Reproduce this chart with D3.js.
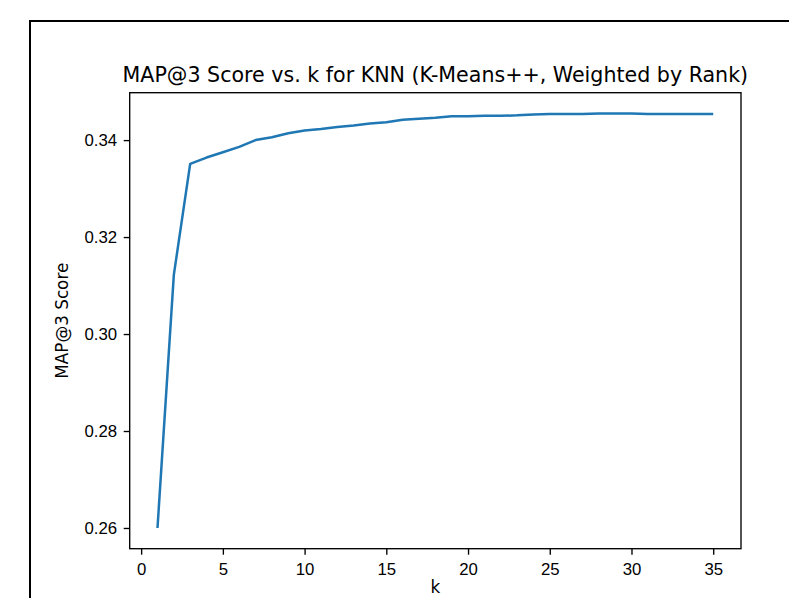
<!DOCTYPE html>
<html>
<head>
<meta charset="utf-8">
<script src="https://cdn.jsdelivr.net/npm/d3@7"></script>
<style>
	body { margin: 0; background: #fff; }
	svg { display: block; font-family: "DejaVu Sans", sans-serif; }
	.axis text { font-size: 16.8px; fill: #000; }
	.axis path, .axis line { stroke: #000; stroke-width: 1.35; }
</style>
</head>
<body>
<svg class="chart" width="789" height="598"></svg>
<script>
// k values and MAP@3 scores
var kValues = [1, 2, 3, 4, 5, 6, 7, 8, 9, 10, 11, 12, 13, 14, 15, 16, 17, 18,
	19, 20, 21, 22, 23, 24, 25, 26, 27, 28, 29, 30, 31, 32, 33, 34, 35];
var scores = [0.2600, 0.3122, 0.3351, 0.3364, 0.3375, 0.3386, 0.3400, 0.3406, 0.3414, 0.3420,
	0.3423, 0.3427, 0.3430, 0.3434, 0.3437, 0.3442, 0.3444, 0.3446, 0.3449, 0.3449,
	0.3450, 0.3450, 0.3451, 0.3453, 0.3454, 0.3454, 0.3454, 0.3455, 0.3455, 0.3455,
	0.3454, 0.3454, 0.3454, 0.3454, 0.3454];
var xTicks = [0, 5, 10, 15, 20, 25, 30, 35];
var yTicks = [0.26, 0.28, 0.30, 0.32, 0.34];

var titleText = "MAP@3 Score vs. k for KNN (K-Means++, Weighted by Rank)";
var xLabel = "k";
var yLabel = "MAP@3 Score";

var svg = d3.select(".chart");
var margin = {top: 92.7, right: 48, bottom: 49.3, left: 129.7};
var width = +svg.attr("width") - margin.left - margin.right;
var height = +svg.attr("height") - margin.top - margin.bottom;

// figure border (cropped at the right and bottom)
svg.append("rect")
	.attr("x", 30)
	.attr("y", 21)
	.attr("width", 800)
	.attr("height", 700)
	.attr("fill", "none")
	.attr("stroke", "#000")
	.attr("stroke-width", 2);

// 5% padding like matplotlib
var xExt = d3.extent(kValues), yExt = d3.extent(scores);
var xPad = (xExt[1] - xExt[0]) * 0.05, yPad = (yExt[1] - yExt[0]) * 0.05;

var xScale = d3.scaleLinear()
	.domain([xExt[0] - xPad, xExt[1] + xPad])
	.range([0, width]);

var yScale = d3.scaleLinear()
	.domain([yExt[0] - yPad, yExt[1] + yPad])
	.range([height, 0]);

var g = svg.append("g").attr("transform", "translate(" + margin.left + "," + margin.top + ")");

g.append("g")
	.attr("class", "axis xAxis")
	.attr("transform", "translate(0," + height + ")")
	.call(d3.axisBottom(xScale).tickValues(xTicks).tickSize(6).tickPadding(8).tickSizeOuter(0))
	.call(function(a) { a.select(".domain").remove(); });

g.append("g")
	.attr("class", "axis yAxis")
	.call(d3.axisLeft(yScale).tickValues(yTicks).tickFormat(d3.format(".2f")).tickSize(6).tickPadding(6.5).tickSizeOuter(0))
	.call(function(a) { a.select(".domain").remove(); });

var line = d3.line()
	.x(function(d, i) { return xScale(kValues[i]); })
	.y(function(d) { return yScale(d); });

g.append("path")
	.datum(scores)
	.attr("fill", "none")
	.attr("stroke", "#1f77b4")
	.attr("stroke-width", 2.5)
	.attr("stroke-linejoin", "round")
	.attr("d", line);

// plot frame
g.append("rect")
	.attr("width", width)
	.attr("height", height)
	.attr("fill", "none")
	.attr("stroke", "#000")
	.attr("stroke-width", 1.35);

g.append("text")
	.attr("x", width / 2)
	.attr("y", -11)
	.attr("text-anchor", "middle")
	.style("font-size", "20.6px")
	.text(titleText);

// x label sits at the bottom edge, nudged up so it is not clipped
g.append("text")
	.attr("x", width / 2)
	.attr("y", height + 44.8)
	.attr("text-anchor", "middle")
	.style("font-size", "16.8px")
	.text(xLabel);

g.append("text")
	.attr("transform", "translate(" + (68 - margin.left) + "," + (height / 2) + ") rotate(-90)")
	.attr("text-anchor", "middle")
	.style("font-size", "16.8px")
	.text(yLabel);
</script>
</body>
</html>
